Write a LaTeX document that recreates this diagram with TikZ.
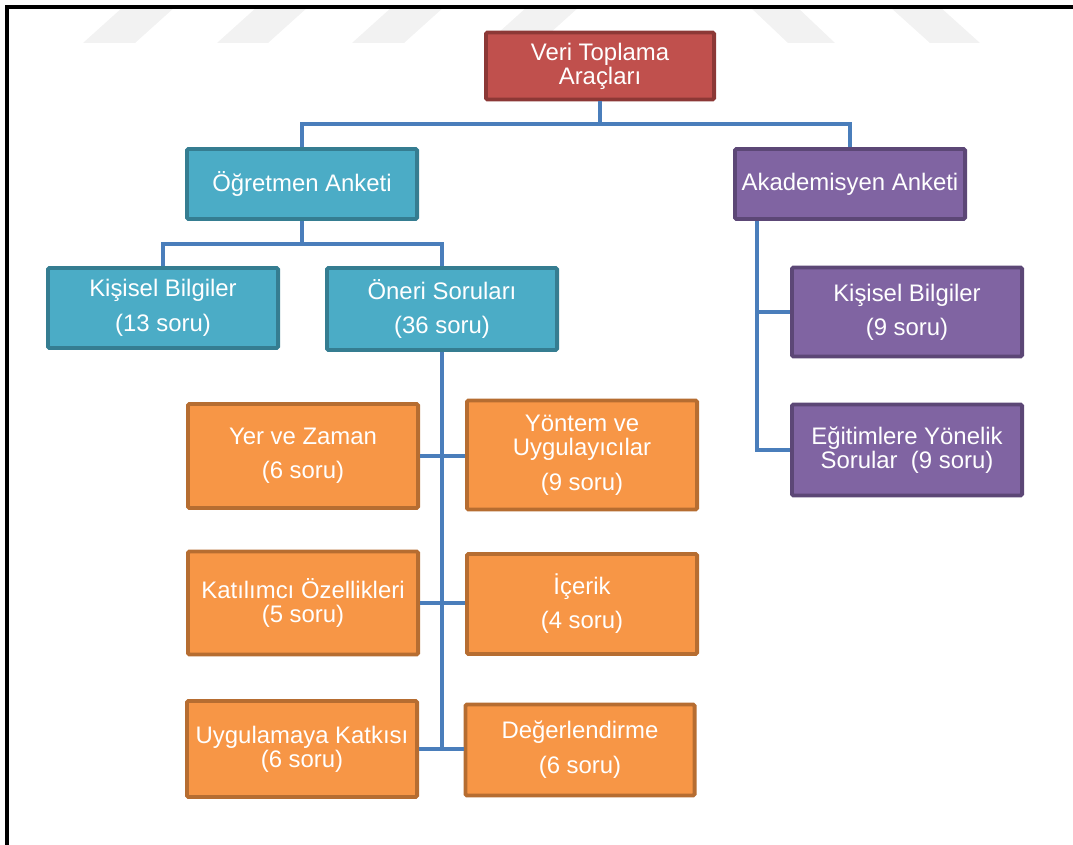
\documentclass[tikz,border=0pt]{standalone}
\usepackage{fontspec}
\setmainfont{Liberation Sans}
\usepackage{tikz}
\tikzset{
  baseline = (current bounding box.center),
}
\definecolor{rootfill}{HTML}{C0504D}
\definecolor{rootline}{HTML}{8C3836}
\definecolor{tealfill}{HTML}{4BACC6}
\definecolor{tealline}{HTML}{357D91}
\definecolor{purpfill}{HTML}{8064A2}
\definecolor{purpline}{HTML}{5C4776}
\definecolor{orfill}{HTML}{F79646}
\definecolor{orline}{HTML}{B66D31}
\definecolor{connblue}{HTML}{4A7EBB}
\definecolor{wmgray}{HTML}{F2F2F2}

\begin{document}
\begin{tikzpicture}[
    x=0.025cm, y=-0.025cm,
    box/.style={draw,line width=2.8pt,rounded corners=1pt,text=white,align=center,
      inner sep=0pt,minimum width=5.75cm,font=\fontsize{17}{17}\selectfont},
    redbox/.style={box,fill=rootfill,draw=rootline},
    tealbox/.style={box,fill=tealfill,draw=tealline},
    purpbox/.style={box,fill=purpfill,draw=purpline},
    orbox/.style={box,fill=orfill,draw=orline},
    conn/.style={draw=connblue,line width=3.5pt}
    ]
    \useasboundingbox (0,0) rectangle (1073,845);
    % faint stripes at the top
    \fill[wmgray] (83,43) -- (135,43) -- (175,7) -- (123,7) -- cycle;
    \fill[wmgray] (217,43) -- (268,43) -- (308,7) -- (257,7) -- cycle;
    \fill[wmgray] (352,43) -- (404,43) -- (444,7) -- (392,7) -- cycle;
    \fill[wmgray] (487,43) -- (539,43) -- (579,7) -- (527,7) -- cycle;
    \fill[wmgray] (750,7) -- (797,7) -- (835,43) -- (788,43) -- cycle;
    \fill[wmgray] (890,7) -- (940,7) -- (980,43) -- (930,43) -- cycle;
    % frame
    \draw[line width=2.2pt] (7,845) -- (7,7) -- (1073,7);
    % boxes
    \node[redbox,minimum width=5.7cm,minimum height=1.675cm] (root) at (600,66) {Veri Toplama\\Araçları};
    \node[tealbox,minimum height=1.75cm] (ogretmen) at (302,184) {Öğretmen Anketi};
    \node[purpbox,minimum height=1.75cm] (akademik) at (850,184) {Akademisyen Anketi};
    \node[tealbox,minimum height=2.0cm] (kisisel) at (163,308) {Kişisel Bilgiler\\[0.27cm](13 soru)};
    \node[tealbox,minimum height=2.05cm] (oneri) at (442,309) {Öneri Soruları\\[0.25cm](36 soru)};
    \node[orbox,minimum height=2.6cm] (yer) at (303,456) {Yer ve Zaman\\[0.25cm](6 soru)};
    \node[orbox,minimum height=2.725cm] (yontem) at (582,455) {Yöntem ve\\Uygulayıcılar\\[0.28cm](9 soru)};
    \node[orbox,minimum height=2.575cm] (katilim) at (303,603) {Katılımcı Özellikleri\\(5 soru)};
    \node[orbox,minimum height=2.5cm] (icerik) at (582,604) {İçerik\\[0.25cm](4 soru)};
    \node[orbox,minimum height=2.4cm] (katki) at (302,749) {Uygulamaya Katkısı\\(6 soru)};
    \node[orbox,minimum width=5.725cm,minimum height=2.275cm] (degerlendirme) at (580,750) {Değerlendirme\\[0.27cm](6 soru)};
    \node[purpbox,minimum height=2.225cm] (akkisisel) at (907,312) {Kişisel Bilgiler\\[0.25cm](9 soru)};
    \node[purpbox,minimum height=2.275cm] (egitim) at (907,450) {Eğitimlere Yönelik\\Sorular\ \ (9 soru)};
    % connectors
    \coordinate (bus1) at (600,124);
    \coordinate (bus2) at (302,244);
    \coordinate (akspine) at (757,0);
    \draw[conn] (root.south) -- (bus1);
    \draw[conn] (ogretmen.north) |- (bus1) -| (akademik.north);
    \draw[conn] (ogretmen.south) -- (bus2);
    \draw[conn] (kisisel.north) |- (bus2) -| (oneri.north);
    \draw[conn] (oneri.south) -- (oneri.south |- katki.east);
    \draw[conn] (yer.east) -- (yer.east -| yontem.west);
    \draw[conn] (katilim.east) -- (katilim.east -| icerik.west);
    \draw[conn] (katki.east) -- (katki.east -| degerlendirme.west);
    \draw[conn] (akademik.south -| akspine) |- (egitim.west);
    \draw[conn] (akspine |- akkisisel.west) -- (akkisisel.west);
  \end{tikzpicture}
\end{document}
